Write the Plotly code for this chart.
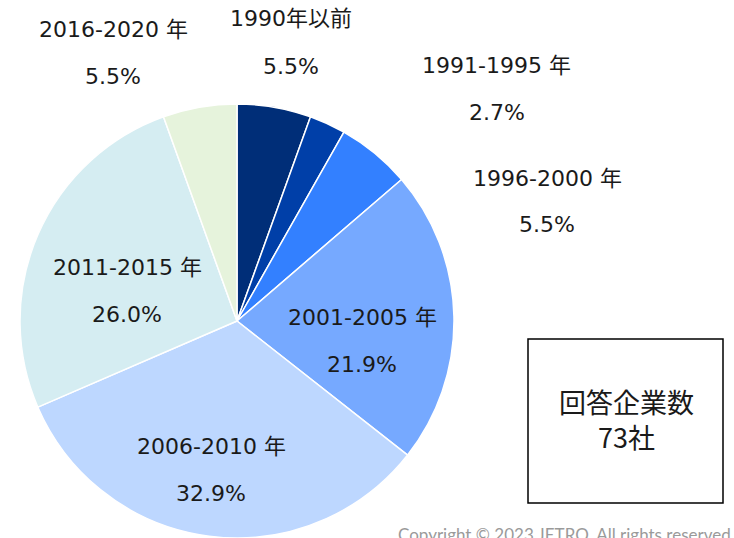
import plotly.graph_objects as go

W, H = 734, 538

categories = ["1990年以前", "1991-1995 年", "1996-2000 年", "2001-2005 年",
              "2006-2010 年", "2011-2015 年", "2016-2020 年"]
shares = [5.5, 2.7, 5.5, 21.9, 32.9, 26.0, 5.5]
colors = ["#002E78", "#003FA8", "#3380FF", "#76A9FF", "#BDD7FF", "#D5EDF2", "#E6F3DC"]
pct_labels = ["5.5%", "2.7%", "5.5%", "21.9%", "32.9%", "26.0%", "5.5%"]
# label centre positions in pixels (x, y of category line)
label_pos = [(291, 19), (497, 65), (547, 178), (362, 317), (211, 446), (127, 267), (113, 30)]
total_label = "回答企業数<br>73社"
copyright_text = "Copyright © 2023 JETRO. All rights reserved."

cx, cy, r = 237, 322, 218

fig = go.Figure(go.Pie(
    labels=categories,
    values=shares,
    sort=False,
    direction="clockwise",
    rotation=0,
    marker=dict(colors=colors, line=dict(color="white", width=1.5)),
    textinfo="none",
    hoverinfo="label+percent",
    showlegend=False,
    domain=dict(x=[(cx - r) / W, (cx + r) / W], y=[max(0, 1 - (cy + r) / H), 1 - (cy - r) / H]),
))

font = dict(family="DejaVu Sans, Noto Sans CJK JP", size=22, color="#1a1a1a")
ann = []
for cat, pct, (x, y) in zip(categories, pct_labels, label_pos):
    ann.append(dict(x=x / W, y=1 - y / H, xref="paper", yref="paper", text=cat,
                    showarrow=False, font=font, xanchor="center", yanchor="middle"))
    ann.append(dict(x=x / W, y=1 - (y + 47) / H, xref="paper", yref="paper", text=pct,
                    showarrow=False, font=font, xanchor="center", yanchor="middle"))

ann.append(dict(x=626 / W, y=1 - 419 / H, xref="paper", yref="paper", text=total_label,
                showarrow=False, font=dict(family="Noto Sans CJK JP", size=27, color="#1a1a1a"),
                xanchor="center", yanchor="middle"))
ann.append(dict(x=396 / W, y=1 - 522 / H, xref="paper", yref="paper", text=copyright_text,
                showarrow=False, font=dict(family="Lato, Open Sans", size=17, color="#9a9a9a"),
                xanchor="left", yanchor="top"))

fig.update_layout(
    width=W, height=H,
    margin=dict(l=0, r=0, t=0, b=0),
    paper_bgcolor="white", plot_bgcolor="white",
    annotations=ann,
    shapes=[dict(type="rect", xref="paper", yref="paper",
                 x0=528 / W, x1=723 / W, y0=1 - 503 / H, y1=1 - 339 / H,
                 line=dict(color="black", width=1.5), fillcolor="rgba(0,0,0,0)")],
)

fig.write_html("out.html", config={"displayModeBar": False},
               post_script="document.body.style.margin='0';document.body.style.overflow='hidden';")
